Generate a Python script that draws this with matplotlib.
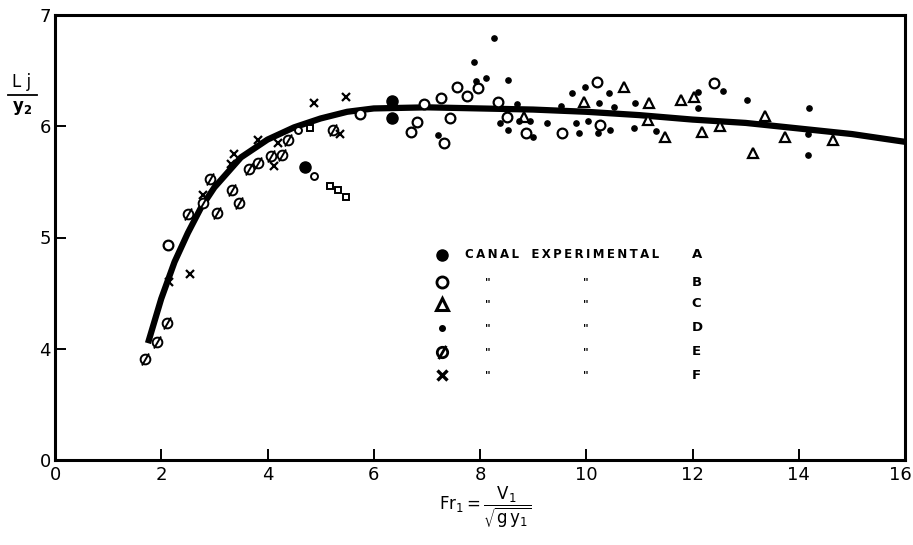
import matplotlib
matplotlib.use("Agg")
import matplotlib.pyplot as plt
from matplotlib.lines import Line2D
import matplotlib.transforms as mtransforms

# ---- curve (fitted line) ----
curve_x = [1.75, 2.0, 2.25, 2.5, 2.75, 3.0, 3.5, 4.0, 4.5, 5.0, 5.5, 6.0, 7.0, 8.0,
           9.0, 10.0, 11.0, 12.0, 13.0, 14.0, 15.0, 16.0]
curve_y = [4.05, 4.45, 4.78, 5.04, 5.27, 5.45, 5.72, 5.88, 5.99, 6.07, 6.13, 6.16, 6.17,
           6.16, 6.15, 6.13, 6.10, 6.06, 6.03, 5.98, 5.93, 5.86]

# ---- series A: large filled circles ----
a_x = [4.71, 6.35, 6.35]
a_y = [5.63, 6.23, 6.07]

# ---- series B: open circles ----
b_x = [2.12, 5.74, 6.95, 7.26, 6.82, 6.70, 7.43, 7.56, 7.75, 7.97, 7.32, 8.34, 8.51,
       8.86, 9.55, 10.20, 10.26, 12.40]
b_y = [4.93, 6.11, 6.20, 6.25, 6.04, 5.95, 6.07, 6.35, 6.27, 6.34, 5.85, 6.22, 6.08,
       5.94, 5.94, 6.40, 6.01, 6.39]

# ---- series C: open triangles ----
c_x = [8.83, 9.96, 10.71, 11.19, 11.17, 11.49, 11.79, 12.03, 12.18, 12.51, 13.37,
       13.74, 13.13, 14.64]
c_y = [6.08, 6.22, 6.35, 6.21, 6.06, 5.90, 6.24, 6.26, 5.95, 6.00, 6.09, 5.90,
       5.76, 5.88]

# ---- series D: small filled dots ----
d_x = [7.88, 7.93, 7.20, 8.27, 8.12, 8.53, 8.70, 8.38, 8.53, 8.73, 8.94, 9.00, 9.27,
       9.53, 9.74, 9.80, 9.87, 9.98, 10.04, 10.24, 10.43, 10.52, 10.45, 10.22, 10.91,
       10.89, 11.32, 12.10, 12.10, 12.57, 13.02, 14.20, 14.17, 14.17]
d_y = [6.58, 6.41, 5.92, 6.79, 6.43, 6.42, 6.20, 6.03, 5.97, 6.05, 6.05, 5.90, 6.03,
       6.18, 6.30, 6.03, 5.94, 6.35, 6.05, 6.21, 6.30, 6.17, 5.97, 5.94, 6.21,
       5.98, 5.96, 6.31, 6.16, 6.32, 6.24, 6.16, 5.93, 5.74]

# ---- series E: slashed circles ----
e_x = [1.70, 1.92, 2.10, 2.51, 3.04, 3.46, 2.79, 2.92, 3.33, 3.65, 3.82, 4.06, 4.28,
       4.38, 5.23]
e_y = [3.91, 4.06, 4.23, 5.21, 5.22, 5.31, 5.31, 5.53, 5.43, 5.62, 5.67, 5.73, 5.74,
       5.88, 5.97]

# ---- series F: crosses ----
f_x = [2.54, 2.15, 2.79, 3.31, 3.37, 3.82, 4.13, 4.19, 4.88, 5.47, 5.36]
f_y = [4.67, 4.60, 5.38, 5.66, 5.75, 5.88, 5.64, 5.85, 6.21, 6.26, 5.93]

# ---- small unlabelled marks (small circles and squares) ----
sc_x = [4.58, 4.88]
sc_y = [5.97, 5.55]
sq_x = [4.80, 5.18, 5.33, 5.47]
sq_y = [5.98, 5.46, 5.43, 5.36]

x_ticks = [0, 2, 4, 6, 8, 10, 12, 14, 16]
x_tick_labels = ["0", "2", "4", "6", "8", "10", "12", "14", "16"]
y_ticks = [3, 4, 5, 6, 7]
y_tick_labels = ["0", "4", "5", "6", "7"]

legend_title = "CANAL EXPERIMENTAL"
legend_letters = ["A", "B", "C", "D", "E", "F"]

plt.rcParams['font.family'] = ['DejaVu Sans']

fig = plt.figure(figsize=(9.13, 5.45), dpi=100)
ax = fig.add_axes([55/913, 1-460/545, 850/913, 445/545])

ax.plot(curve_x, curve_y, color='black', lw=4.5, solid_capstyle='butt', zorder=3)

ax.plot(a_x, a_y, 'o', ms=8, color='black', zorder=4)
ax.plot(b_x, b_y, 'o', ms=7, mfc='white', mec='black', mew=1.6, zorder=4)
ax.plot(c_x, c_y, '^', ms=7, mfc='white', mec='black', mew=1.6, zorder=4)
ax.plot(d_x, d_y, 'o', ms=3.8, color='black', zorder=4)
ax.plot(e_x, e_y, 'o', ms=7, mfc='white', mec='black', mew=1.4, zorder=4)
ax.plot(e_x, e_y, marker=(2, 0, -30), ls='none', ms=10, mec='black', mew=1.4, zorder=5)
ax.plot(f_x, f_y, 'x', ms=6, mec='black', mew=1.6, zorder=4)
ax.plot(sc_x, sc_y, 'o', ms=5, mfc='white', mec='black', mew=1.4, zorder=4)
ax.plot(sq_x, sq_y, 's', ms=5, mfc='white', mec='black', mew=1.4, zorder=4)

ax.set_xlim(0, 16)
ax.set_ylim(3, 7)
ax.set_xticks(x_ticks)
ax.set_xticklabels(x_tick_labels)
ax.set_yticks(y_ticks)
ax.set_yticklabels(y_tick_labels)
ax.tick_params(axis='both', direction='in', length=8, width=1.4, labelsize=13,
               colors='black')
ax.tick_params(axis='x', pad=4)
ax.tick_params(axis='y', pad=3)
for s in ax.spines.values():
    s.set_linewidth(2.2)
    s.set_color('black')

# keep the last x tick label inside the figure
last = ax.get_xticklabels()[-1]
last.set_transform(last.get_transform() +
                   mtransforms.ScaledTranslation(-5/100, 0, fig.dpi_scale_trans))

# legend block drawn inside the axes
rows = [0.461, 0.400, 0.351, 0.297, 0.243, 0.191]
mx = 0.455
ax.plot([mx], [rows[0]], 'o', ms=8, color='black', transform=ax.transAxes)
ax.plot([mx], [rows[1]], 'o', ms=8, mfc='white', mec='black', mew=2, transform=ax.transAxes)
ax.plot([mx], [rows[2]], '^', ms=9, mfc='white', mec='black', mew=2.2, transform=ax.transAxes)
ax.plot([mx], [rows[3]], 'o', ms=4, color='black', transform=ax.transAxes)
ax.plot([mx], [rows[4]], 'o', ms=7.5, mfc='white', mec='black', mew=2, transform=ax.transAxes)
ax.plot([mx], [rows[4]], marker=(2, 0, -30), ms=11, mec='black', mew=2, transform=ax.transAxes)
ax.plot([mx], [rows[5]], 'x', ms=7, mec='black', mew=2.4, transform=ax.transAxes)

spaced = "   ".join("\u2009".join(w) for w in legend_title.split())
ax.text(0.482, rows[0], spaced, transform=ax.transAxes,
        fontsize=8.5, fontweight='bold', va='center', ha='left')
for i, letter in enumerate(legend_letters):
    ax.text(0.749, rows[i], letter, transform=ax.transAxes, fontsize=9.5,
            fontweight='bold', va='center', ha='left')
    if i > 0:
        ax.text(0.509, rows[i], '"', transform=ax.transAxes, fontsize=8,
                fontweight='bold', va='center', ha='center')
        ax.text(0.624, rows[i], '"', transform=ax.transAxes, fontsize=8,
                fontweight='bold', va='center', ha='center')

# y-axis label as a fraction Lj / y2
fig.text(22/913, 1-82/545, "L j", fontsize=12, ha='center', va='center')
fig.add_artist(Line2D([8/913, 37/913], [1-95/545, 1-95/545], color='black', lw=1.3))
fig.text(22/913, 1-108/545, r"y$_\mathbf{2}$", fontsize=12, ha='center', va='center',
         fontweight='bold')

# x-axis label
fig.text(485/913, 1-507/545, r"$\mathrm{Fr_1=\dfrac{V_1}{\sqrt{g\,y_1}}}$",
         fontsize=12, ha='center', va='center')

fig.savefig("out.png", dpi=100)
